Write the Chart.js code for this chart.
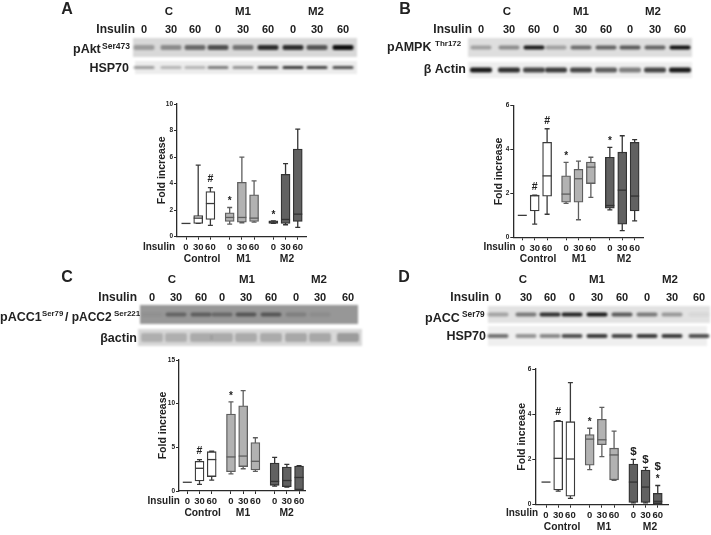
<!DOCTYPE html>
<html>
<head>
<meta charset="utf-8">
<title>Fold increase panels</title>
<script src="https://cdn.jsdelivr.net/npm/chart.js@4"></script>
<style>
  html, body { margin: 0; background: #fff; }
  #page { position: relative; width: 711px; height: 535px; overflow: hidden; filter: blur(0.35px); }
  #page canvas { position: absolute; }
  .lab { position: absolute; white-space: nowrap; font-family: "Liberation Sans", Arial, sans-serif; font-weight: bold; color: #222; line-height: 1; }
</style>
</head>
<body>
<div id="page"><canvas id="blots" width="711" height="535" style="left:0;top:0"></canvas></div>
<script>
const doses = ['0', '30', '60', '0', '30', '60', '0', '30', '60'];
const groupNames = ['Control', 'M1', 'M2'];
const headerNames = ['C', 'M1', 'M2'];

// box plot values
const aLow = [1, 1, 0.85, 0.95, 1.05, 1.1, 1, 0.9, 0.7];
const aQ1 = [1, 1, 1.3, 1.15, 1.1, 1.15, 1, 1, 1.15];
const aMed = [1, 1.4, 2.5, 1.45, 1.45, 1.4, 1.1, 1.3, 1.7];
const aQ3 = [1, 1.6, 3.4, 1.8, 4.1, 3.15, 1.2, 4.7, 6.6];
const aHigh = [1, 5.4, 3.7, 2.2, 6, 4.2, 1.2, 5.5, 8.1];
const aMarks = ['', '', '#', '*', '', '', '*', '', ''];

const bLow = [1, 0.6, 1.05, 1.55, 0.8, 1.82, 1.25, 0.3, 0.75];
const bQ1 = [1, 1.2, 1.87, 1.6, 1.6, 2.45, 1.33, 0.6, 1.2];
const bMed = [1, 1.9, 2.8, 1.97, 2.67, 3.2, 1.45, 2.15, 1.88];
const bQ3 = [1, 1.92, 4.33, 2.8, 3.1, 3.43, 3.65, 3.88, 4.33];
const bHigh = [1, 1.92, 4.95, 3.42, 3.47, 3.65, 4.1, 4.63, 4.45];
const bMarks = ['', '#', '#', '*', '', '', '*', '', ''];

const cLow = [1, 0.75, 1.25, 1.95, 2.55, 2.25, 0.55, 0.45, 0.1];
const cQ1 = [1, 1.15, 1.65, 2.2, 2.8, 2.4, 0.65, 0.5, 0.15];
const cMed = [1, 2.6, 3.6, 3.9, 4, 3.4, 1.1, 1.2, 1.55];
const cQ3 = [1, 3.4, 4.5, 8.8, 9.75, 5.55, 3.2, 2.75, 2.85];
const cHigh = [1, 3.6, 4.55, 10.2, 11.5, 6.1, 3.85, 3.05, 2.9];
const cMarks = ['', '#', '', '*', '', '', '', '', ''];

const dLow = [1, 0.6, 0.28, 1.55, 2.13, 1.08, 0.08, 0.08, 0.02];
const dQ1 = [1, 0.65, 0.38, 1.75, 2.65, 1.1, 0.1, 0.1, 0.05];
const dMed = [1, 2.05, 2.02, 2.9, 2.87, 2.2, 1, 0.78, 0.15];
const dQ3 = [1, 3.7, 3.67, 3.1, 3.78, 2.5, 1.8, 1.53, 0.5];
const dHigh = [1, 3.72, 5.4, 3.38, 4.3, 3.25, 2, 1.65, 0.85];
const dMarks = ['', '#', '', '*', '', '', '$', '$', '*,$'];

// blot band strengths, lane by lane
const aktBands = [0.3, 0.38, 0.55, 0.68, 0.5, 0.85, 0.85, 0.65, 1];
const aHspBands = [0.35, 0.25, 0.25, 0.5, 0.4, 0.65, 0.8, 0.75, 0.7];
const ampkBands = [0.3, 0.4, 0.95, 0.3, 0.55, 0.6, 0.65, 0.6, 1];
const bActinBands = [0.95, 0.85, 0.75, 0.8, 0.75, 0.65, 0.5, 0.75, 0.95];
const accBands = [0.05, 0.38, 0.42, 0.35, 0.48, 0.48, 0.18, 0.08, 0];
const cActinBands = [0.2, 0.2, 0.22, 0.22, 0.22, 0.22, 0.24, 0.24, 0.3];
const acc79Bands = [0.3, 0.5, 0.85, 0.9, 0.95, 0.65, 0.5, 0.35, 0.05];
const dHspBands = [0.55, 0.4, 0.45, 0.7, 0.8, 0.75, 0.8, 0.8, 0.7];

const page = document.getElementById('page');

function label(text, x, y, size, anchor) {
    const el = document.createElement('div');
    el.className = 'lab';
    el.textContent = text;
    el.style.left = x + 'px';
    el.style.top = y + 'px';
    el.style.fontSize = size + 'px';
    const dx = anchor === 'left' ? '0' : anchor === 'right' ? '-100%' : '-50%';
    el.style.transform = 'translate(' + dx + ',-50%)';
    page.appendChild(el);
}

// === Blots ===
const blotCtx = document.getElementById('blots').getContext('2d');

function strip(x, y, w, h, bg, lanes, bands, bandW, bandH) {
    blotCtx.filter = 'blur(0.8px)';
    blotCtx.fillStyle = bg;
    blotCtx.fillRect(x, y, w, h);
    blotCtx.filter = 'blur(1.1px)';
    bands.forEach(function (v, i) {
        blotCtx.fillStyle = 'rgba(15,15,15,' + v + ')';
        blotCtx.beginPath();
        blotCtx.roundRect(lanes[i] - bandW / 2, y + h / 2 - bandH / 2, bandW, bandH, 2);
        blotCtx.fill();
    });
    blotCtx.filter = 'none';
}

const lanesA = [144, 171, 195, 218, 243, 268, 293, 317, 343];
const lanesB = [481, 509, 534, 556, 581, 606, 630, 655, 680];
const lanesC = [152, 176, 201, 222, 246, 271, 296, 320, 348];
const lanesD = [498, 526, 550, 572, 597, 622, 647, 672, 699];

strip(133, 38, 224, 19, '#d8d8d8', lanesA, aktBands, 21, 5);
strip(135, 61, 222, 13, '#ececec', lanesA, aHspBands, 21, 3);
strip(468, 38, 224, 19, '#dedede', lanesB, ampkBands, 21, 4);
strip(468, 62, 224, 16, '#eeeeee', lanesB, bActinBands, 22, 5);
strip(140, 305, 218, 19, '#979797', lanesC, accBands, 21, 4);
strip(138, 329, 224, 17, '#d8d8d8', lanesC, cActinBands, 22, 9);
strip(488, 306, 222, 17, '#e2e2e2', lanesD, acc79Bands, 21, 4);
strip(488, 326, 219, 20, '#efefef', lanesD, dHspBands, 21, 4);

// === Text around the blots ===
function header(letter, lx, ly, names, nameX, nameY, insulinX, insulinY, lanes) {
    label(letter, lx, ly, 16, 'center');
    names.forEach(function (n, i) { label(n, nameX[i], nameY, 11.5, 'center'); });
    label('Insulin', insulinX, insulinY, 12, 'right');
    doses.forEach(function (d, i) { label(d, lanes[i], insulinY, 11, 'center'); });
}

header('A', 67, 9, headerNames, [169, 243, 316], 12, 135, 29, lanesA);
header('B', 405, 9, headerNames, [507, 581, 653], 12, 472, 29, lanesB);
header('C', 67, 277, headerNames, [172, 247, 319], 280, 137, 297, lanesC);
header('D', 404, 277, headerNames, [523, 597, 670], 280, 489, 297, lanesD);

label('pAkt', 73, 49, 12.5, 'left');
label('Ser473', 102, 46, 8.5, 'left');
label('HSP70', 129, 68, 12.5, 'right');
label('pAMPK', 387, 47, 12.5, 'left');
label('Thr172', 435, 44, 8, 'left');
label('β Actin', 466, 69, 12.5, 'right');
label('pACC1', 0, 317, 12.5, 'left');
label('Ser79', 42, 313.5, 7.8, 'left');
label('/ pACC2', 65, 317, 12, 'left');
label('Ser221', 114, 313.5, 8, 'left');
label('βactin', 137, 338, 12.5, 'right');
label('pACC', 425, 318, 12.5, 'left');
label('Ser79', 462, 314, 8.3, 'left');
label('HSP70', 486, 336, 12.5, 'right');

// === Box plots ===
const boxFill = ['#ffffff', '#ffffff', '#ffffff', '#b2b2b2', '#b2b2b2', '#b2b2b2', '#616161', '#616161', '#616161'];
const boxEdge = ['#3a3a3a', '#3a3a3a', '#3a3a3a', '#5e5e5e', '#5e5e5e', '#5e5e5e', '#333333', '#333333', '#333333'];
const MARK_FONT = { '#': 'bold 10.5px', '*': 'bold 10px', '$': 'bold 11.5px' };

// whiskers go under the boxes, medians and significance marks on top
const boxExtras = {
    id: 'boxExtras',
    beforeDatasetsDraw(chart, args, opts) {
        const ctx = chart.ctx, x = chart.scales.x, y = chart.scales.y;
        ctx.save();
        ctx.lineWidth = 1.3;
        opts.slots.forEach(function (s, i) {
            if (opts.low[i] === opts.high[i]) return;
            const px = x.getPixelForValue(s);
            ctx.strokeStyle = boxEdge[i];
            ctx.beginPath();
            [opts.low[i], opts.high[i]].forEach(function (v) {
                const py = y.getPixelForValue(v);
                ctx.moveTo(px - 2.5, py);
                ctx.lineTo(px + 2.5, py);
            });
            ctx.moveTo(px, y.getPixelForValue(opts.low[i]));
            ctx.lineTo(px, y.getPixelForValue(opts.high[i]));
            ctx.stroke();
        });
        ctx.restore();
    },
    afterDatasetsDraw(chart, args, opts) {
        const ctx = chart.ctx, x = chart.scales.x, y = chart.scales.y;
        ctx.save();
        ctx.lineWidth = 1.3;
        ctx.textAlign = 'center';
        ctx.textBaseline = 'middle';
        opts.slots.forEach(function (s, i) {
            const px = x.getPixelForValue(s);
            const py = y.getPixelForValue(opts.med[i]);
            ctx.strokeStyle = boxEdge[i];
            ctx.beginPath();
            ctx.moveTo(px - 4.5, py);
            ctx.lineTo(px + 4.5, py);
            ctx.stroke();
            let above = y.getPixelForValue(opts.high[i]) - 8;
            if (opts.marks[i]) {
                opts.marks[i].split(',').forEach(function (m) {
                    ctx.fillStyle = '#222';
                    ctx.font = MARK_FONT[m] + ' "Liberation Sans", Arial, sans-serif';
                    ctx.fillText(m, px, m === '*' ? above + 2 : above);
                    above -= 11;
                });
            }
        });
        ctx.restore();
    }
};

function boxPlot(cfg) {
    const canvas = document.createElement('canvas');
    canvas.width = cfg.left2 - cfg.left;
    canvas.height = cfg.bottom2 - cfg.top;
    canvas.style.left = cfg.left + 'px';
    canvas.style.top = cfg.top + 'px';
    page.appendChild(canvas);

    // one unit = one box, with a little extra space between the three groups
    const slots = doses.map(function (d, i) { return i + cfg.gap * Math.floor(i / 3); });

    new Chart(canvas, {
        type: 'bar',
        data: {
            datasets: [{
                data: slots.map(function (s, i) { return { x: s, y: [cfg.q1[i], cfg.q3[i]] }; }),
                backgroundColor: boxFill,
                borderColor: boxEdge,
                borderWidth: 1.3,
                borderSkipped: false,
                barThickness: 9
            }]
        },
        options: {
            responsive: false,
            animation: false,
            layout: { padding: { top: cfg.yTop - cfg.top, right: cfg.left2 - cfg.xEnd, left: 0, bottom: 0 } },
            plugins: {
                legend: { display: false },
                tooltip: { enabled: false },
                boxExtras: { slots: slots, low: cfg.low, high: cfg.high, med: cfg.med, marks: cfg.marks }
            },
            scales: {
                x: {
                    type: 'linear',
                    offset: false,
                    min: (cfg.axisX - cfg.first) / cfg.step,
                    max: (cfg.xEnd - cfg.first) / cfg.step,
                    afterBuildTicks: function (s) { s.ticks = slots.map(function (v) { return { value: v }; }); },
                    afterFit: function (s) { s.height = cfg.bottom2 - cfg.yBottom; },
                    border: { color: '#2a2a2a', width: 1.3 },
                    grid: { drawOnChartArea: false, tickLength: 3, color: '#2a2a2a', offset: false },
                    ticks: {
                        autoSkip: false,
                        maxRotation: 0,
                        padding: 2,
                        color: '#222',
                        font: { family: '"Liberation Sans", Arial, sans-serif', size: 9.5, weight: 'bold' },
                        callback: function (v, i) { return doses[i]; }
                    }
                },
                y: {
                    min: 0,
                    max: cfg.yMax,
                    afterFit: function (s) { s.width = cfg.axisX - cfg.left; },
                    border: { color: '#2a2a2a', width: 1.3 },
                    grid: { drawOnChartArea: false, tickLength: 3, color: '#2a2a2a' },
                    ticks: {
                        stepSize: cfg.yStep,
                        padding: 1,
                        color: '#222',
                        font: { family: '"Liberation Sans", Arial, sans-serif', size: 6.5, weight: 'bold' }
                    },
                    title: {
                        display: true,
                        text: 'Fold increase',
                        color: '#222',
                        padding: { top: cfg.titlePad, bottom: 0 },
                        font: { family: '"Liberation Sans", Arial, sans-serif', size: 10.5, weight: 'bold' }
                    }
                }
            }
        },
        plugins: [boxExtras]
    });

    label('Insulin', cfg.insulin[0], cfg.insulin[1], 10, 'center');
    groupNames.forEach(function (n, i) { label(n, cfg.groupX[i], cfg.groupY, 10.3, 'center'); });
}

boxPlot({
    left: 130, left2: 320, top: 95, bottom2: 265,
    axisX: 177, xEnd: 306, yTop: 104, yBottom: 236.7, first: 186, step: 12.2, gap: 0.58,
    yMax: 10, yStep: 2, titlePad: 26,
    low: aLow, q1: aQ1, med: aMed, q3: aQ3, high: aHigh, marks: aMarks,
    insulin: [159, 247], groupX: [202, 243.5, 287], groupY: 259
});
boxPlot({
    left: 470, left2: 655, top: 95, bottom2: 265,
    axisX: 513.3, xEnd: 643, yTop: 105.7, yBottom: 237.3, first: 522.3, step: 12.4, gap: 0.53,
    yMax: 6, yStep: 2, titlePad: 23,
    low: bLow, q1: bQ1, med: bMed, q3: bQ3, high: bHigh, marks: bMarks,
    insulin: [499.5, 247], groupX: [538, 579, 624], groupY: 259
});
boxPlot({
    left: 130, left2: 320, top: 350, bottom2: 520,
    axisX: 179, xEnd: 305.7, yTop: 360, yBottom: 491, first: 187.3, step: 12.2, gap: 0.58,
    yMax: 15, yStep: 5, titlePad: 27,
    low: cLow, q1: cQ1, med: cMed, q3: cQ3, high: cHigh, marks: cMarks,
    insulin: [163.7, 501], groupX: [202.7, 243, 286.7], groupY: 513
});
boxPlot({
    left: 490, left2: 680, top: 355, bottom2: 533,
    axisX: 535.3, xEnd: 668, yTop: 369, yBottom: 504.7, first: 546, step: 12.2, gap: 0.58,
    yMax: 6, yStep: 2, titlePad: 26,
    low: dLow, q1: dQ1, med: dMed, q3: dQ3, high: dHigh, marks: dMarks,
    insulin: [522, 512.7], groupX: [562, 604, 650], groupY: 526.7
});
</script>
</body>
</html>
